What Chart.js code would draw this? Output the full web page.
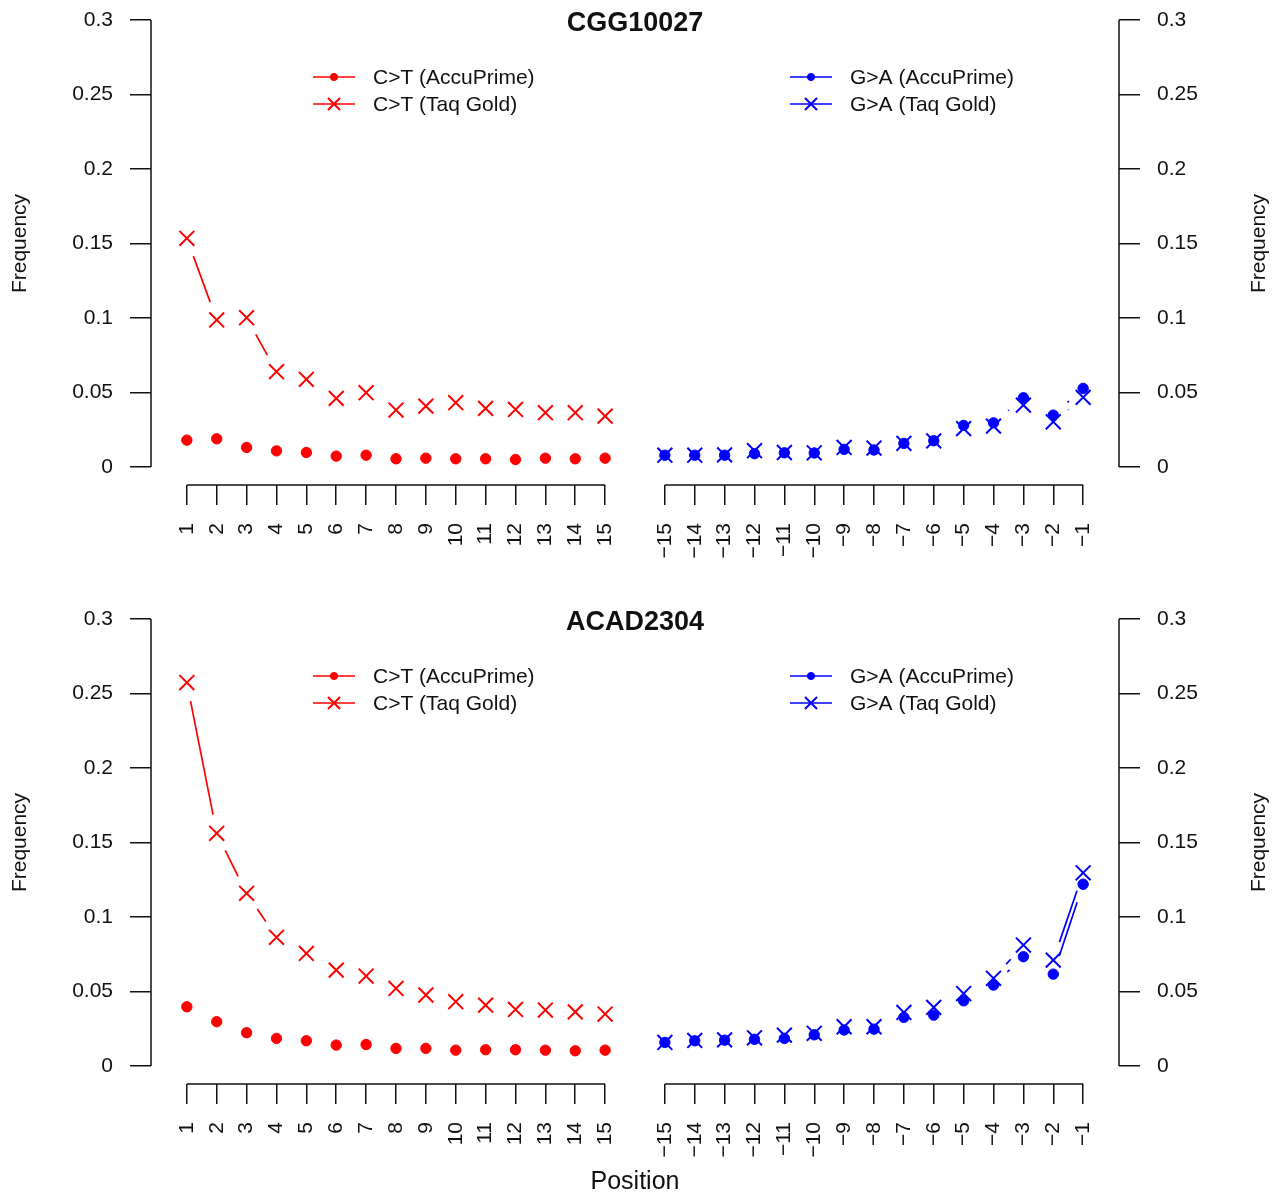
<!DOCTYPE html>
<html>
<head>
<meta charset="utf-8">
<script src="https://cdn.jsdelivr.net/npm/chart.js@4/dist/chart.umd.min.js"></script>
<style>
  html, body { margin: 0; background: #fff; }
  .panel { position: absolute; left: 0; width: 1280px; }
  #top { top: 0; height: 598px; }
  #bottom { top: 599px; height: 597px; }
</style>
</head>
<body>
<div class="panel" id="top"><canvas id="cgg" width="1280" height="598"></canvas></div>
<div class="panel" id="bottom"><canvas id="acad" width="1280" height="597"></canvas></div>
<script>
const fivePrime = [1, 2, 3, 4, 5, 6, 7, 8, 9, 10, 11, 12, 13, 14, 15]
const threePrime = [-15, -14, -13, -12, -11, -10, -9, -8, -7, -6, -5, -4, -3, -2, -1]
const xTickLabels = ["1", "2", "3", "4", "5", "6", "7", "8", "9", "10", "11", "12", "13", "14", "15",
  "−15", "−14", "−13", "−12", "−11", "−10", "−9", "−8", "−7", "−6", "−5", "−4", "−3", "−2", "−1"]
const yTicks = [0, 0.05, 0.1, 0.15, 0.2, 0.25, 0.3]
const yTickLabels = ["0", "0.05", "0.1", "0.15", "0.2", "0.25", "0.3"]

const seriesLabels = ["C>T (AccuPrime)", "C>T (Taq Gold)", "G>A (AccuPrime)", "G>A (Taq Gold)"]

// CGG10027
const cggCtAccu = [0.0181, 0.0190, 0.0132, 0.0109, 0.0098, 0.0074, 0.0080, 0.0056, 0.0060, 0.0056, 0.0056, 0.0051, 0.0060, 0.0056, 0.0060]
const cggCtTaq = [0.1535, 0.0987, 0.1002, 0.0640, 0.0589, 0.0461, 0.0499, 0.0383, 0.0409, 0.0432, 0.0394, 0.0387, 0.0365, 0.0365, 0.0342]
const cggGaAccu = [0.0080, 0.0080, 0.0080, 0.0090, 0.0096, 0.0095, 0.0119, 0.0115, 0.0159, 0.0177, 0.0280, 0.0297, 0.0465, 0.0349, 0.0528]
const cggGaTaq = [0.0080, 0.0080, 0.0082, 0.0110, 0.0098, 0.0096, 0.0132, 0.0128, 0.0160, 0.0176, 0.0258, 0.0275, 0.0416, 0.0304, 0.0468]

// ACAD2304
const acadCtAccu = [0.0398, 0.0298, 0.0224, 0.0186, 0.0170, 0.0141, 0.0145, 0.0119, 0.0119, 0.0107, 0.0110, 0.0110, 0.0107, 0.0103, 0.0107]
const acadCtTaq = [0.2573, 0.1562, 0.1159, 0.0864, 0.0756, 0.0644, 0.0604, 0.0521, 0.0477, 0.0432, 0.0409, 0.0380, 0.0376, 0.0364, 0.0349]
const acadGaAccu = [0.0159, 0.0170, 0.0174, 0.0180, 0.0186, 0.0210, 0.0242, 0.0248, 0.0327, 0.0342, 0.0438, 0.0544, 0.0734, 0.0617, 0.1220]
const acadGaTaq = [0.0159, 0.0172, 0.0176, 0.0190, 0.0208, 0.0220, 0.0264, 0.0264, 0.0360, 0.0394, 0.0487, 0.0589, 0.0812, 0.0711, 0.1297]

const RED = "#ff0000"
const BLUE = "#0000ff"
const FONT = '"Liberation Sans", Arial, Helvetica, sans-serif'
const GAP = 19 // R type="b" leaves a gap round each point

// 5' positions sit in slots 1..15, 3' positions in 17..31 (one empty slot between)
const slot = p => (p > 0 ? p : 32 + p)
const xSlots = [...fivePrime, ...threePrime].map(slot)

const pointsOf = (positions, values) => positions.map((p, i) => ({ x: slot(p), y: values[i] }))

function dataset(label, color, positions, values, cross) {
  return {
    label,
    data: pointsOf(positions, values),
    showLine: false,
    borderColor: color,
    backgroundColor: color,
    pointStyle: cross ? "crossRot" : "circle",
    pointRadius: cross ? 10.5 : 5.2,
    pointBorderWidth: cross ? 2 : 1,
    legendRadius: cross ? 8.5 : 3.6
  }
}

// lines between consecutive points, cut back like R's type = "b"
const gappedLines = {
  id: "gappedLines",
  beforeDatasetsDraw(chart) {
    const { ctx } = chart
    chart.data.datasets.forEach((ds, i) => {
      const pts = chart.getDatasetMeta(i).data
      ctx.save()
      ctx.strokeStyle = ds.borderColor
      ctx.lineWidth = 1.7
      for (let k = 1; k < pts.length; k++) {
        const a = pts[k - 1], b = pts[k]
        const dx = b.x - a.x, dy = b.y - a.y
        const len = Math.hypot(dx, dy)
        if (len <= 2 * GAP) continue
        const ux = dx / len, uy = dy / len
        ctx.beginPath()
        ctx.moveTo(a.x + ux * GAP, a.y + uy * GAP)
        ctx.lineTo(b.x - ux * GAP, b.y - uy * GAP)
        ctx.stroke()
      }
      ctx.restore()
    })
  }
}

// axis lines, title, legend and axis titles in the base-R look
const rDecor = {
  id: "rDecor",
  afterDraw(chart, args, opts) {
    const { ctx, chartArea } = chart
    const x = chart.scales.x, y = chart.scales.y
    ctx.save()
    ctx.strokeStyle = "#111"
    ctx.lineWidth = 1.5
    ctx.beginPath()
    ctx.moveTo(chartArea.left, y.getPixelForValue(0))
    ctx.lineTo(chartArea.left, y.getPixelForValue(0.3))
    ctx.moveTo(chartArea.right, y.getPixelForValue(0))
    ctx.lineTo(chartArea.right, y.getPixelForValue(0.3))
    const xb = chartArea.bottom
    ctx.moveTo(x.getPixelForValue(slot(1)), xb)
    ctx.lineTo(x.getPixelForValue(slot(15)), xb)
    ctx.moveTo(x.getPixelForValue(slot(-15)), xb)
    ctx.lineTo(x.getPixelForValue(slot(-1)), xb)
    ctx.stroke()

    ctx.fillStyle = "#111"
    ctx.textAlign = "center"
    ctx.textBaseline = "middle"
    ctx.font = "bold 27px " + FONT
    ctx.fillText(opts.title, 635, 24)

    const yMid = (y.getPixelForValue(0) + y.getPixelForValue(0.3)) / 2
    ctx.font = "21px " + FONT
    for (const fx of [20, 1259]) {
      ctx.save()
      ctx.translate(fx, yMid)
      ctx.rotate(-Math.PI / 2)
      ctx.fillText("Frequency", 0, 0)
      ctx.restore()
    }

    if (opts.xTitle) {
      ctx.font = "25px " + FONT
      ctx.fillText(opts.xTitle, 635, 583)
    }

    // legend: two columns, two rows
    const cols = [313, 790]
    const rows = [77, 104]
    chart.data.datasets.forEach((ds, i) => {
      const lx = cols[Math.floor(i / 2)]
      const ly = rows[i % 2]
      ctx.strokeStyle = ds.borderColor
      ctx.fillStyle = ds.backgroundColor
      ctx.lineWidth = 1.7
      ctx.beginPath()
      ctx.moveTo(lx, ly)
      ctx.lineTo(lx + 42, ly)
      ctx.stroke()
      ctx.lineWidth = ds.pointBorderWidth
      Chart.helpers.drawPoint(ctx, {
        pointStyle: ds.pointStyle,
        radius: ds.legendRadius,
        rotation: 0,
        borderWidth: ds.pointBorderWidth
      }, lx + 21, ly)
      ctx.fillStyle = "#111"
      ctx.textAlign = "left"
      ctx.font = "21px " + FONT
      ctx.fillText(ds.label, lx + 60, ly + 1)
    })
    ctx.restore()
  }
}

function yScale(position) {
  return {
    type: "linear",
    position,
    min: -0.012,
    max: 0.312,
    afterBuildTicks: s => { s.ticks = yTicks.map(v => ({ value: v })) },
    afterFit: s => {
      s.width = position === "left" ? 151 : 161
      s.paddingTop = 0
      s.paddingBottom = 0
    },
    border: { display: false },
    grid: { drawOnChartArea: false, drawTicks: true, tickLength: 21, color: "#111", lineWidth: 1.5 },
    ticks: {
      color: "#111",
      padding: 17,
      font: { family: FONT, size: 21 },
      callback: (v, i) => yTickLabels[i]
    }
  }
}

function makePanel(canvas, title, ctAccu, ctTaq, gaAccu, gaTaq, xTitle) {
  const height = canvas.height
  return new Chart(canvas, {
    type: "line",
    data: {
      datasets: [
        dataset(seriesLabels[0], RED, fivePrime, ctAccu, false),
        dataset(seriesLabels[1], RED, fivePrime, ctTaq, true),
        dataset(seriesLabels[2], BLUE, threePrime, gaAccu, false),
        dataset(seriesLabels[3], BLUE, threePrime, gaTaq, true)
      ]
    },
    options: {
      responsive: false,
      animation: false,
      layout: { autoPadding: false, padding: { top: 2, left: 0, right: 0, bottom: 0 } },
      plugins: {
        legend: { display: false },
        tooltip: { enabled: false },
        rDecor: { title, xTitle }
      },
      scales: {
        x: {
          type: "linear",
          min: -0.2,
          max: 32.2,
          afterBuildTicks: s => { s.ticks = xSlots.map(v => ({ value: v })) },
          afterFit: s => {
            s.height = height - 485
            s.paddingLeft = 0
            s.paddingRight = 0
          },
          border: { display: false },
          grid: { drawOnChartArea: false, drawTicks: true, tickLength: 20, color: "#111", lineWidth: 1.5 },
          ticks: {
            color: "#111",
            padding: 18,
            autoSkip: false,
            minRotation: 90,
            maxRotation: 90,
            font: { family: FONT, size: 21 },
            callback: (v, i) => xTickLabels[i]
          }
        },
        y: yScale("left"),
        y2: yScale("right")
      }
    },
    plugins: [gappedLines, rDecor]
  })
}

makePanel(document.getElementById("cgg"), "CGG10027", cggCtAccu, cggCtTaq, cggGaAccu, cggGaTaq, null)
makePanel(document.getElementById("acad"), "ACAD2304", acadCtAccu, acadCtTaq, acadGaAccu, acadGaTaq, "Position")
</script>
</body>
</html>
